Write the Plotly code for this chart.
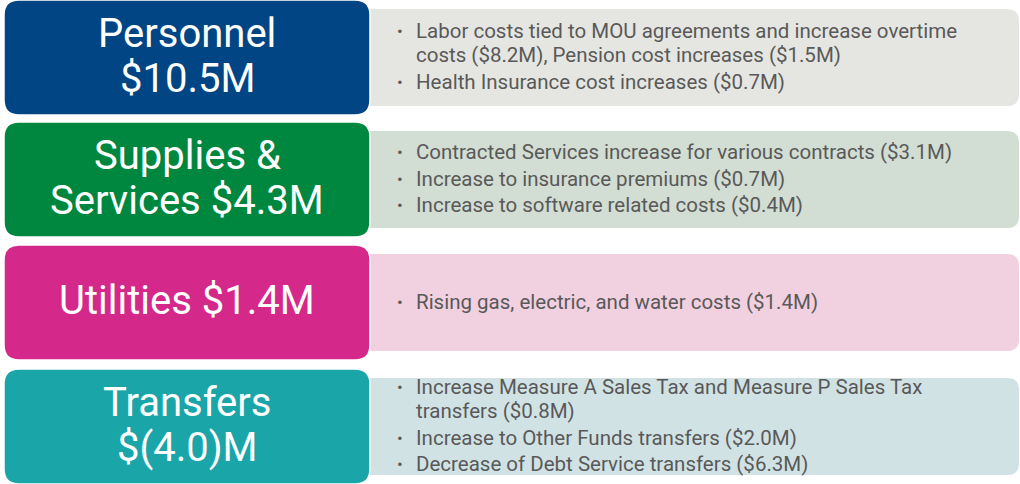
import plotly.graph_objects as go

# ---- data ----
categories = ["Personnel", "Supplies & Services", "Utilities", "Transfers"]
amounts = ["$10.5M", "$4.3M", "$1.4M", "$(4.0)M"]
box_labels = [["Personnel", "$10.5M"], ["Supplies &", "Services $4.3M"],
              ["Utilities $1.4M"], ["Transfers", "$(4.0)M"]]
bullets = [
    [["Labor costs tied to MOU agreements and increase overtime",
      "costs ($8.2M), Pension cost increases ($1.5M)"],
     ["Health Insurance cost increases ($0.7M)"]],
    [["Contracted Services increase for various contracts ($3.1M)"],
     ["Increase to insurance premiums ($0.7M)"],
     ["Increase to software related costs ($0.4M)"]],
    [["Rising gas, electric, and water costs ($1.4M)"]],
    [["Increase Measure A Sales Tax and Measure P Sales Tax",
      "transfers ($0.8M)"],
     ["Increase to Other Funds transfers ($2.0M)"],
     ["Decrease of Debt Service transfers ($6.3M)"]],
]
box_colors = ["#024585", "#00873F", "#D4288A", "#1AA5A8"]
panel_colors = ["#E5E6E1", "#D2DDD3", "#F1D0DF", "#D1E2E4"]

W, H = 1020, 484


def rrect(x0, y0, x1, y1, r, left_round=True):
    # y increases downward (axis reversed)
    if left_round:
        return (f"M{x0+r},{y0} L{x1-r},{y0} Q{x1},{y0} {x1},{y0+r} L{x1},{y1-r} "
                f"Q{x1},{y1} {x1-r},{y1} L{x0+r},{y1} Q{x0},{y1} {x0},{y1-r} "
                f"L{x0},{y0+r} Q{x0},{y0} {x0+r},{y0} Z")
    return (f"M{x0},{y0} L{x1-r},{y0} Q{x1},{y0} {x1},{y0+r} L{x1},{y1-r} "
            f"Q{x1},{y1} {x1-r},{y1} L{x0},{y1} Z")


box_tops = [0, 122, 245, 369]
box_h = 115
shapes = []
annotations = []
for i, top in enumerate(box_tops):
    # panel
    p0, p1 = top + 9, top + 106
    shapes.append(dict(type="path", path=rrect(362, p0, 1019, p1, 12, left_round=False),
                       fillcolor=panel_colors[i], line=dict(width=0), layer="below"))
    shapes.append(dict(type="path", path=rrect(4, top, 370, top + box_h, 15),
                       fillcolor=box_colors[i], line=dict(width=1.5, color="white"), layer="below"))
    lbl = box_labels[i]
    lsp = 45
    mid = top + box_h / 2 - 2
    for j, t in enumerate(lbl):
        yy = mid + (j - (len(lbl) - 1) / 2) * lsp
        annotations.append(dict(x=187, y=yy, xref="x", yref="y",
                                text=t, showarrow=False,
                                font=dict(family="Roboto", size=40, color="white"),
                                xanchor="center", yanchor="middle", align="center"))
    # bullets
    lines = []
    for b in bullets[i]:
        for j, ln in enumerate(b):
            lines.append((j == 0, ln))
    n_lines = len(lines)
    n_gaps_bullet = len(bullets[i]) - 1
    n_wrap = n_lines - 1 - n_gaps_bullet
    lh_wrap, lh_bullet = 24.3, 26.5
    total = n_wrap * lh_wrap + n_gaps_bullet * lh_bullet
    cy = (p0 + p1) / 2 - total / 2 - 1
    y = cy
    for k, (is_first, ln) in enumerate(lines):
        if k > 0:
            y += lh_bullet if is_first else lh_wrap
        if is_first:
            annotations.append(dict(x=400, y=y, xref="x", yref="y", text="•", showarrow=False,
                                    font=dict(family="Roboto", size=17, color="#595959"),
                                    xanchor="center", yanchor="middle"))
        annotations.append(dict(x=414, y=y, xref="x", yref="y", text=ln, showarrow=False,
                                font=dict(family="Roboto", size=20.5, color="#595959"),
                                xanchor="left", yanchor="middle"))

fig = go.Figure()
fig.add_trace(go.Scatter(x=[0, W], y=[0, H], mode="markers", marker=dict(opacity=0),
                         hoverinfo="skip", showlegend=False))
fig.update_layout(
    width=W, height=H, margin=dict(l=0, r=0, t=0, b=0),
    paper_bgcolor="white", plot_bgcolor="white",
    xaxis=dict(range=[0, W], visible=False, fixedrange=True),
    yaxis=dict(range=[H, 0], visible=False, fixedrange=True),
    shapes=shapes, annotations=annotations, showlegend=False,
)
fig.write_html("out.html", config={"displayModeBar": False},
               post_script="document.body.style.margin='0';")
